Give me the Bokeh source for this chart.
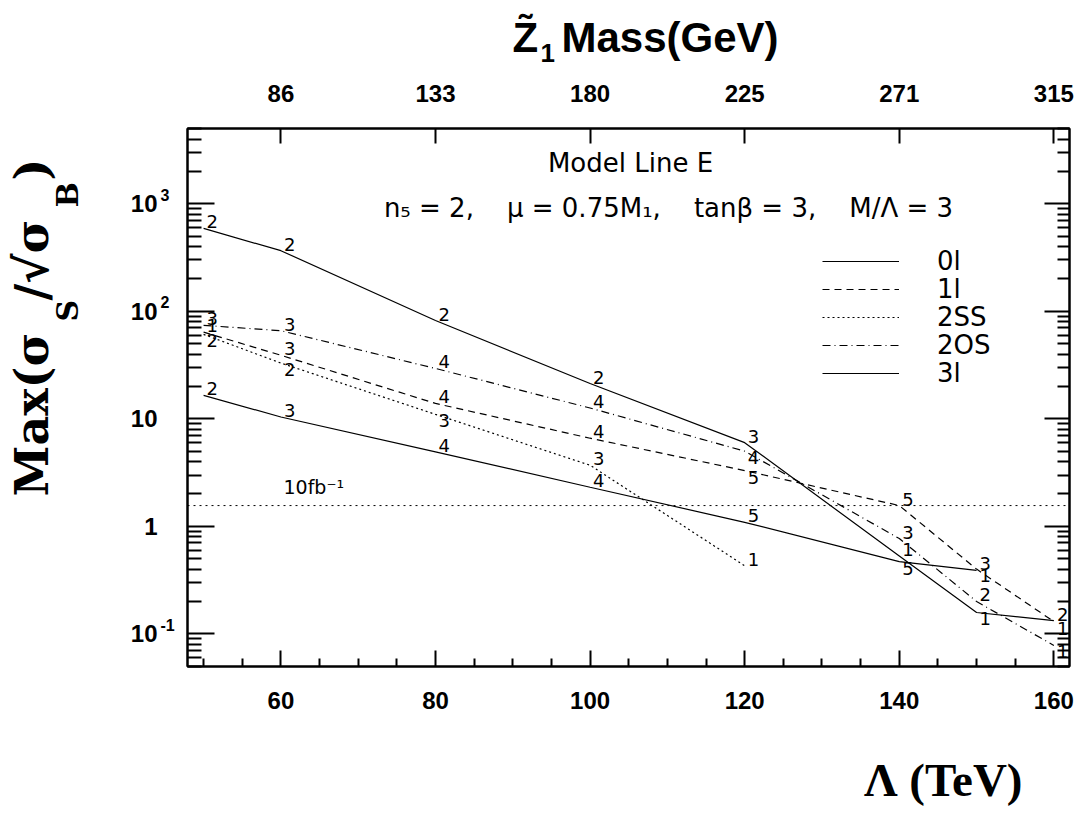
import math
from bokeh.plotting import figure
from bokeh.layouts import column, row
from bokeh.models import (Range1d, LinearAxis, LogAxis, FixedTicker, Label, Span,
                          Legend, LegendItem, ColumnDataSource, CustomJSTickFormatter)
from bokeh.core.properties import value
from bokeh.embed import file_html
from bokeh.resources import INLINE

# ---------------- data ----------------
lam_ticks = [60, 80, 100, 120, 140, 160]
mass_tick_labels = ["86", "133", "180", "225", "271", "315"]
y_tick_values = [0.1, 1, 10, 100, 1000]
y_tick_bases = ["10", "1", "10", "10", "10"]
y_tick_exps = ["-1", "", "", "2", "3"]

lam_0l = [50, 60, 80, 100, 120, 140, 150, 160]
sig_0l = [590, 366, 82, 21.3, 6.0, 0.53, 0.158, 0.133]
num_0l = ["2", "2", "2", "2", "3", "1", "1", "2"]

lam_1l = [50, 60, 80, 100, 120, 140, 150, 160]
sig_1l = [64, 39, 13.9, 6.6, 3.3, 1.56, 0.40, 0.13]
num_1l = ["1", "3", "4", "4", "5", "5", "1", "1"]

lam_2ss = [50, 60, 80, 100, 120]
sig_2ss = [61, 33, 11.0, 3.7, 0.43]
num_2ss = ["2", "2", "3", "3", "1"]

lam_2os = [50, 60, 80, 100, 120, 140, 150, 160]
sig_2os = [74, 66, 29.4, 12.6, 5.0, 0.77, 0.20, 0.078]
num_2os = ["3", "3", "4", "4", "4", "3", "2", "1"]

lam_3l = [50, 60, 80, 100, 120, 140, 150]
sig_3l = [16.5, 10.4, 4.93, 2.31, 1.09, 0.47, 0.39]
num_3l = ["2", "3", "4", "4", "5", "5", "3"]

series_names = ["0l", "1l", "2SS", "2OS", "3l"]
threshold_10fb = 1.56
threshold_text = "10fb\u207b\u00b9"
model_title = "Model Line E"
model_param_parts = ["n\u2085 = 2", "\u03bc = 0.75M\u2081", "tan\u03b2 = 3", "M/\u039b = 3"]
x_range_lim = (47.92, 162.02)
y_range_lim = (0.0497, 5012)

# ---------------- style / layout ----------------
TOTAL_W = 1075
HT, HB = 74, 84                      # top / bottom title strips
WL = 175                             # left title strip
FW, FH = 882, 538                    # main frame
MBL, MBT, MBB = 12, 54, 60           # main figure borders
MW = TOTAL_W - WL
MH = MBT + FH + MBB
MBR = MW - MBL - FW
FRAME_L = WL + MBL                   # page x of frame left (187)
FRAME_B = HT + MBT + FH              # page y of frame bottom (666)

DASH = {"0l": "solid", "1l": "7 5", "2SS": "2 3", "2OS": "8 4 1 4", "3l": "solid"}
LABEL_BELOW = {"0l": {6}, "1l": {4, 6, 7}, "2SS": {0, 1, 2}, "2OS": {4, 7}, "3l": {5}}
LEG_CENTERS = [262, 290, 318, 346, 374]
TICK_FONT = "Liberation Sans"
SERIF = "Liberation Serif"
YSERIF = "DejaVu Serif"
INFONT = "DejaVu Sans"
GAP = ",\u00a0\u00a0\u00a0\u00a0"      # wide gap between the parameter groups


def blank_fig(w, h, **kw):
    f = figure(width=w, height=h, output_backend="svg", toolbar_location=None,
               x_axis_location=None, y_axis_location=None, min_border=0,
               title=None, frame_align=False, x_range=Range1d(0, 1), **kw)
    f.grid.visible = False
    f.outline_line_color = None
    f.background_fill_color = "white"
    f.border_fill_color = "white"
    return f


def txt(fig, x, y, text, font, size, align="left", baseline="middle", bold=False,
        angle=0.0, y_units="screen", y_offset=0):
    fig.add_layout(Label(x=x, y=y, x_units="screen", y_units=y_units, y_offset=y_offset,
                         text=text, text_align=align, text_baseline=baseline,
                         text_font=font, text_font_size=f"{size}px", angle=angle,
                         text_font_style="bold" if bold else "normal",
                         text_color="black"))


# ---------------- main plot ----------------
p = figure(width=MW, height=MH, output_backend="svg", toolbar_location=None,
           y_axis_type="log", x_range=Range1d(*x_range_lim),
           y_range=Range1d(*y_range_lim), title=None, frame_align=False,
           min_border_left=MBL, min_border_right=MBR, min_border_top=MBT,
           min_border_bottom=MBB)
p.xgrid.visible = False
p.ygrid.visible = False
p.outline_line_color = "black"
p.outline_line_width = 2
p.background_fill_color = "white"
p.border_fill_color = "white"

y_minor = [k * 10.0 ** e for e in range(-2, 4) for k in range(2, 10)]
x_minor = [v for v in range(50, 161, 5) if v not in lam_ticks]

xa = p.xaxis[0]
xa.ticker = FixedTicker(ticks=lam_ticks, minor_ticks=x_minor)
xa.major_tick_in, xa.major_tick_out = 16, 0
xa.minor_tick_in, xa.minor_tick_out = 8, 0
xa.major_tick_line_width = 2
xa.minor_tick_line_width = 2
xa.axis_line_width = 2
xa.major_label_text_font = TICK_FONT
xa.major_label_text_font_style = "bold"
xa.major_label_text_font_size = "24px"
xa.major_label_text_color = "black"
xa.major_label_standoff = 25

ya = p.yaxis[0]
ya.ticker = FixedTicker(ticks=y_tick_values, minor_ticks=y_minor)
ya.formatter = CustomJSTickFormatter(code="return ''")
ya.major_tick_in, ya.major_tick_out = 27, 0
ya.minor_tick_in, ya.minor_tick_out = 14, 0
ya.major_tick_line_width = 2
ya.minor_tick_line_width = 2
ya.axis_line_width = 2
ya.major_label_standoff = 0

ra = LogAxis(ticker=FixedTicker(ticks=y_tick_values, minor_ticks=y_minor),
             formatter=CustomJSTickFormatter(code="return ''"),
             major_tick_in=25, major_tick_out=0, minor_tick_in=12, minor_tick_out=0,
             major_tick_line_width=2, minor_tick_line_width=2, axis_line_width=2,
             major_label_standoff=0)
p.add_layout(ra, "right")

ta = LinearAxis(ticker=FixedTicker(ticks=lam_ticks, minor_ticks=[]),
                major_label_overrides=dict(zip(lam_ticks, mass_tick_labels)),
                major_tick_in=15, major_tick_out=0, minor_tick_in=0, minor_tick_out=0,
                major_tick_line_width=2, axis_line_width=2,
                major_label_text_font=TICK_FONT, major_label_text_font_style="bold",
                major_label_text_font_size="24px", major_label_text_color="black",
                major_label_standoff=27)
p.add_layout(ta, "above")

p.add_layout(Span(location=threshold_10fb, dimension="width", line_color="black",
                  line_dash="2 4", line_width=1))
txt(p, 283 - FRAME_L, threshold_10fb, threshold_text, INFONT, 19,
    y_units="data", y_offset=19)

series = [
    ("0l", lam_0l, sig_0l, num_0l),
    ("1l", lam_1l, sig_1l, num_1l),
    ("2SS", lam_2ss, sig_2ss, num_2ss),
    ("2OS", lam_2os, sig_2os, num_2os),
    ("3l", lam_3l, sig_3l, num_3l),
]
renderers = {}
for name, xs, ys, nums in series:
    src = ColumnDataSource(dict(x=xs, y=ys))
    r = p.line("x", "y", source=src, line_color="black", line_width=1.2,
               line_dash=DASH[name])
    renderers[name] = r
    below = LABEL_BELOW.get(name, set())
    for pos, base in (("above", "bottom"), ("below", "top")):
        idx = [i for i in range(len(xs)) if (i in below) == (pos == "below")]
        if not idx:
            continue
        s = ColumnDataSource(dict(x=[xs[i] for i in idx], y=[ys[i] for i in idx],
                                  t=[nums[i] for i in idx]))
        p.text(x="x", y="y", text="t", source=s, text_font=value(INFONT),
               text_font_size="18px", text_align="left", text_baseline=base,
               x_offset=3, text_color="black")

for name, cy in zip(series_names, LEG_CENTERS):
    leg = Legend(items=[LegendItem(label=name, renderers=[renderers[name]])],
                 location=(822 - FRAME_L, FRAME_B - (cy + 14)), orientation="vertical",
                 glyph_width=77, glyph_height=28, label_height=28, label_standoff=38,
                 padding=0, margin=0, spacing=0, border_line_alpha=0,
                 background_fill_alpha=0, label_text_font=INFONT,
                 label_text_font_size="26px", label_text_baseline="middle",
                 label_text_color="black")
    p.add_layout(leg)

txt(p, 630 - FRAME_L, FRAME_B - 162, model_title, INFONT, 26, align="center")
txt(p, 668 - FRAME_L, FRAME_B - 207, GAP.join(model_param_parts), INFONT, 26, align="center")

# ---------------- left strip: y tick labels + y title ----------------
k = (math.log10(y_range_lim[1]) - math.log10(y_range_lim[0])) / FH
left_lo = 10 ** (math.log10(y_range_lim[0]) - MBB * k)
left_hi = 10 ** (math.log10(y_range_lim[1]) + MBT * k)
lf = blank_fig(WL, MH, y_axis_type="log", y_range=Range1d(left_lo, left_hi))
LEFT_B = HT + MH                     # page y of left strip bottom
for v, base, ex in zip(y_tick_values, y_tick_bases, y_tick_exps):
    txt(lf, 157, v, base, TICK_FONT, 24, align="right", bold=True, y_units="data")
    if ex:
        txt(lf, 160, v, ex, TICK_FONT, 16, bold=True, y_units="data", y_offset=9)

ytitle_pieces = [("Max(\u03c3", 31, 496, 46), ("S", 67, 321, 30), ("/\u221a\u03c3", 31, 300, 46),
                 ("B", 67, 207, 30), (")", 31, 180, 46)]
for t, px, py, fs in ytitle_pieces:
    txt(lf, px, LEFT_B - py, t, YSERIF, fs, bold=True, angle=math.pi / 2)

# ---------------- top strip ----------------
tf = blank_fig(TOTAL_W, HT, y_range=Range1d(0, 1))
txt(tf, 512, HT - 37, "Z\u0303", TICK_FONT, 42, bold=True)
txt(tf, 540, HT - 52, "1", TICK_FONT, 26, bold=True)
txt(tf, 561, HT - 37, "Mass(GeV)", TICK_FONT, 42, bold=True)

# ---------------- bottom strip ----------------
bf = blank_fig(TOTAL_W, HB, y_range=Range1d(0, 1))
BOT_B = HT + MH + HB
txt(bf, 1022, BOT_B - 779, "\u039b (TeV)", SERIF, 47, align="right", bold=True)

layout = column(tf, row(lf, p, spacing=0), bf, spacing=0)
open("out.html", "w").write(file_html(layout, INLINE))
